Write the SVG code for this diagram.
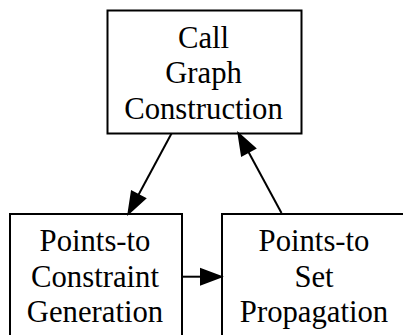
<svg xmlns="http://www.w3.org/2000/svg" width="403" height="335" viewBox="0 0 403 335">
<style>
.box{fill:#fff;stroke:#000;stroke-width:2}
.edge{stroke:#000;stroke-width:2;fill:none}
.head{fill:#000;stroke:#000;stroke-width:2}
text{font-family:'Liberation Serif','Times New Roman',Tinos,serif;font-size:30.7px;fill:#000;text-anchor:middle}
</style>
<rect width="403" height="335" fill="#fff"/>
<g id="cg">
<rect class="box" x="107.5" y="10.5" width="194" height="123"/>
<text x="203.5" y="47.5">Call</text>
<text x="203.5" y="83">Graph</text>
<text x="203.5" y="118.5">Construction</text>
</g>
<g id="pcg">
<rect class="box" x="10" y="214" width="172" height="150"/>
<text x="95" y="251">Points-to</text>
<text x="95" y="286.5">Constraint</text>
<text x="95" y="322">Generation</text>
</g>
<g id="psp">
<rect class="box" x="222" y="214" width="184" height="150"/>
<text x="314" y="251">Points-to</text>
<text x="314" y="286.5">Set</text>
<text x="314" y="322">Propagation</text>
</g>
<g id="edges">
<line class="edge" x1="171.5" y1="133.5" x2="138.4" y2="195"/>
<polygon class="head" points="128.5,213.5 145.05,198.55 131.83,191.45"/>
<line class="edge" x1="281.5" y1="213" x2="248.5" y2="152"/>
<polygon class="head" points="238.5,133.5 255.09,148.4 241.89,155.54"/>
<line class="edge" x1="182" y1="276.7" x2="201" y2="276.7"/>
<polygon class="head" points="221,276.7 201,269.2 201,284.2"/>
</g>
</svg>
